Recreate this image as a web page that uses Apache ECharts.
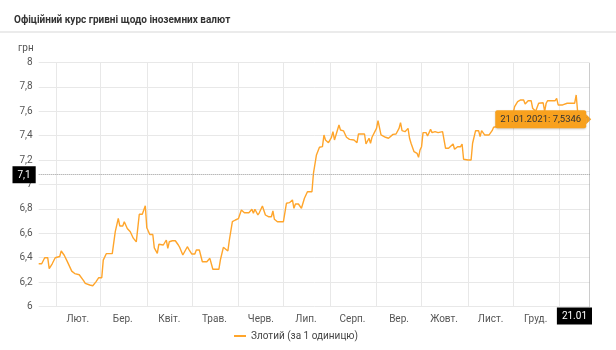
<!DOCTYPE html>
<html><head><meta charset="utf-8">
<script src="https://cdn.jsdelivr.net/npm/echarts@6/dist/echarts.min.js"></script>
<style>
html,body{margin:0;padding:0;background:#fff;width:616px;height:350px;overflow:hidden;}
#sep{position:absolute;left:0;top:31px;width:616px;height:2px;background:#ebebeb;}
#chart{position:absolute;left:0;top:0;width:592px;height:350px;}
</style></head><body>
<div id="sep"></div>
<div id="chart"></div>
<script>
const titleText = 'Офіційний курс гривні щодо іноземних валют';
const seriesName = 'Злотий (за 1 одиницю)';
const yUnit = 'грн';

const dates = [
'2020-01-20','2020-01-22','2020-01-24','2020-01-26','2020-01-27','2020-01-29','2020-01-31',
'2020-02-03','2020-02-04','2020-02-06','2020-02-08','2020-02-09','2020-02-11','2020-02-13','2020-02-14','2020-02-16','2020-02-17','2020-02-19','2020-02-20','2020-02-23','2020-02-25','2020-02-27','2020-02-29',
'2020-03-02','2020-03-03','2020-03-05','2020-03-07','2020-03-09','2020-03-11','2020-03-13','2020-03-14','2020-03-16','2020-03-17','2020-03-19','2020-03-21','2020-03-23','2020-03-25','2020-03-26','2020-03-27','2020-03-29','2020-03-31',
'2020-04-01','2020-04-03','2020-04-05','2020-04-06','2020-04-08','2020-04-09','2020-04-12','2020-04-14','2020-04-15','2020-04-16','2020-04-18','2020-04-20','2020-04-22','2020-04-23','2020-04-25','2020-04-26','2020-04-28','2020-04-29',
'2020-05-01','2020-05-03','2020-05-04','2020-05-06','2020-05-08','2020-05-11','2020-05-13','2020-05-14','2020-05-15','2020-05-19','2020-05-20','2020-05-22','2020-05-23','2020-05-25','2020-05-26','2020-05-28','2020-05-30',
'2020-06-01','2020-06-03','2020-06-05','2020-06-08','2020-06-10','2020-06-11','2020-06-12','2020-06-14','2020-06-15','2020-06-17','2020-06-19','2020-06-21','2020-06-23','2020-06-24','2020-06-25','2020-06-27',
'2020-07-01','2020-07-03','2020-07-05','2020-07-07','2020-07-08','2020-07-09','2020-07-11','2020-07-13','2020-07-14','2020-07-15','2020-07-17','2020-07-20','2020-07-21','2020-07-23','2020-07-25','2020-07-27','2020-07-28','2020-07-29','2020-07-31',
'2020-08-02','2020-08-03','2020-08-04','2020-08-06','2020-08-07','2020-08-08','2020-08-10','2020-08-12','2020-08-13','2020-08-14','2020-08-15','2020-08-17','2020-08-19','2020-08-20','2020-08-24','2020-08-25','2020-08-27','2020-08-28','2020-08-29','2020-08-30',
'2020-09-01','2020-09-02','2020-09-04','2020-09-05','2020-09-07','2020-09-09','2020-09-10','2020-09-12','2020-09-14','2020-09-16','2020-09-17','2020-09-18','2020-09-20','2020-09-22','2020-09-23','2020-09-24','2020-09-26','2020-09-28','2020-09-29','2020-09-30',
'2020-10-01','2020-10-02','2020-10-04','2020-10-05','2020-10-07','2020-10-08','2020-10-10','2020-10-12','2020-10-13','2020-10-15','2020-10-17','2020-10-19','2020-10-20','2020-10-22','2020-10-23','2020-10-25','2020-10-27','2020-10-28','2020-10-29',
'2020-11-01','2020-11-03','2020-11-04','2020-11-06','2020-11-08','2020-11-09','2020-11-10','2020-11-12','2020-11-13','2020-11-15','2020-11-17','2020-11-18','2020-11-20','2020-11-22','2020-11-26','2020-11-29',
'2020-12-01','2020-12-02','2020-12-04','2020-12-06','2020-12-08','2020-12-09','2020-12-11','2020-12-13','2020-12-14','2020-12-16','2020-12-18','2020-12-19','2020-12-21','2020-12-22','2020-12-23','2020-12-24','2020-12-29','2020-12-30','2020-12-31',
'2021-01-03','2021-01-06','2021-01-11','2021-01-12','2021-01-13','2021-01-16','2021-01-19','2021-01-21'
];
const rates = [
6.35,6.35,6.40,6.40,6.31,6.35,6.40,
6.41,6.455,6.42,6.37,6.37,6.29,6.27,6.26,6.26,6.245,6.21,6.19,6.176,6.17,6.20,6.236,
6.236,6.38,6.433,6.433,6.433,6.613,6.723,6.66,6.66,6.695,6.64,6.613,6.56,6.53,6.53,6.756,6.756,6.826,
6.646,6.59,6.59,6.48,6.436,6.51,6.504,6.545,6.477,6.531,6.539,6.539,6.504,6.482,6.422,6.422,6.49,6.469,
6.43,6.43,6.463,6.463,6.367,6.367,6.395,6.381,6.305,6.305,6.381,6.485,6.485,6.455,6.545,6.695,6.709,
6.72,6.791,6.769,6.769,6.797,6.764,6.797,6.75,6.77,6.824,6.75,6.736,6.736,6.783,6.715,6.695,
6.695,6.846,6.851,6.873,6.805,6.84,6.84,6.805,6.846,6.887,6.941,6.941,7.092,7.242,7.305,7.31,7.406,7.365,7.343,
7.387,7.433,7.365,7.447,7.488,7.447,7.44,7.387,7.398,7.37,7.37,7.365,7.343,7.414,7.414,7.332,7.379,7.338,7.387,7.38,
7.46,7.523,7.406,7.392,7.387,7.379,7.37,7.411,7.414,7.46,7.507,7.441,7.433,7.46,7.379,7.338,7.269,7.256,7.223,7.283,
7.31,7.425,7.425,7.398,7.452,7.425,7.433,7.425,7.441,7.433,7.297,7.297,7.31,7.332,7.289,7.31,7.31,7.332,7.207,
7.201,7.201,7.338,7.441,7.441,7.392,7.441,7.406,7.42,7.406,7.441,7.469,7.474,7.507,7.52,7.57,
7.584,7.638,7.68,7.693,7.693,7.66,7.687,7.687,7.625,7.60,7.666,7.67,7.67,7.60,7.666,7.687,7.687,7.706,7.652,
7.652,7.666,7.666,7.734,7.59,7.56,7.55,7.5346
];

const monthStarts = ['2020-02-01','2020-03-01','2020-04-01','2020-05-01','2020-06-01','2020-07-01','2020-08-01','2020-09-01','2020-10-01','2020-11-01','2020-12-01','2021-01-01'];
const monthLabelDates = ['2020-02-15','2020-03-16','2020-04-16','2020-05-16','2020-06-16','2020-07-16','2020-08-16','2020-09-16','2020-10-16','2020-11-16','2020-12-16'];
const monthLabels = ['Лют.','Бер.','Квіт.','Трав.','Черв.','Лип.','Серп.','Вер.','Жовт.','Лист.','Груд.'];
const yMin = 6, yMax = 8, yStep = 0.2;
const cursorDate = '2021-01-21';
const cursorRate = 7.08;

const DAY = 86400000;
function ts(s){ const p = s.split('-').map(Number); return Date.UTC(p[0], p[1]-1, p[2]); }
const t0 = ts(dates[0]);
function dayOf(s){ return Math.round((ts(s) - t0) / DAY); }
function dateOf(day){ return new Date(t0 + Math.round(day) * DAY); }
function comma(v, d){ return (d == null ? String(+v.toFixed(1)) : v.toFixed(d)).replace('.', ','); }
function dm(day){ const d = dateOf(day); return String(d.getUTCDate()).padStart(2,'0') + '.' + String(d.getUTCMonth()+1).padStart(2,'0'); }

const labelDays = monthLabelDates.map(dayOf);
const seriesData = dates.map((d, i) => [dayOf(d), rates[i]]);
const lastIdx = dates.length - 1;
const lastDay = dayOf(dates[lastIdx]);
const lastText = dm(lastDay) + '.' + dateOf(lastDay).getUTCFullYear() + ': ' + comma(rates[lastIdx], 4);

const chart = echarts.init(document.getElementById('chart'), null, {renderer: 'canvas'});
chart.setOption({
  animation: false,
  textStyle: {fontFamily: 'Roboto'},
  title: {text: titleText, left: 9, top: 10, textStyle: {fontSize: 10, fontWeight: 'bold', color: '#333', fontFamily: 'Roboto'}},
  legend: {bottom: 4, left: 'center', icon: 'rect', itemWidth: 12, itemHeight: 2, itemGap: 10,
    textStyle: {fontSize: 10, color: '#444'}, data: [seriesName]},
  grid: {left: 38.7, right: 2.3, top: 62.5, bottom: 43.5},
  xAxis: {
    type: 'value', min: 0, max: lastDay,
    axisLine: {show: false},
    axisTick: {show: false, customValues: monthStarts.map(dayOf)},
    splitLine: {show: true, lineStyle: {color: '#e8e8e8', width: 1}},
    axisLabel: {customValues: labelDays, formatter: v => monthLabels[labelDays.indexOf(v)] || '',
      fontSize: 10, color: '#555', margin: 8},
    axisPointer: {show: true, status: 'show', value: dayOf(cursorDate), triggerTooltip: false, snap: false,
      lineStyle: {type: 'dotted', color: '#999', width: 1},
      label: {show: true, formatter: p => dm(p.value), backgroundColor: '#000', color: '#fff',
        fontSize: 10, padding: [4, 5, 3, 5], borderRadius: 0, margin: 1}}
  },
  yAxis: {
    type: 'value', min: yMin, max: yMax, interval: yStep,
    name: yUnit, nameLocation: 'end', nameGap: 14,
    nameTextStyle: {align: 'right', verticalAlign: 'middle', padding: [0, 5, 0, 0], fontSize: 10, color: '#555'},
    axisLine: {show: false}, axisTick: {show: false},
    splitLine: {lineStyle: {color: '#e8e8e8', width: 1}},
    axisLabel: {formatter: v => comma(v), fontSize: 10, color: '#555', margin: 6},
    axisPointer: {show: true, status: 'show', value: cursorRate, triggerTooltip: false, snap: false,
      lineStyle: {type: 'dotted', color: '#999', width: 1},
      label: {show: true, formatter: p => comma(p.value), backgroundColor: '#000', color: '#fff',
        fontSize: 10, padding: [4, 5, 3, 5], borderRadius: 0, margin: 3}}
  },
  series: [{
    name: seriesName, type: 'line', data: seriesData, showSymbol: false, symbol: 'none',
    lineStyle: {color: '#ffa52b', width: 1.4}, itemStyle: {color: '#ffa52b'},
    markPoint: {
      silent: true,
      symbol: 'triangle', symbolRotate: -90, symbolSize: [10, 5], symbolOffset: [-1, 0],
      itemStyle: {color: '#f8a11e'},
      label: {show: true, position: 'left', distance: 0, formatter: lastText,
        backgroundColor: '#f8a11e', color: '#333', fontSize: 9.5, padding: [4, 5, 4, 5], borderRadius: 2,
        shadowColor: 'rgba(0,0,0,0.2)', shadowBlur: 2, shadowOffsetY: 1},
      data: [{coord: seriesData[lastIdx], value: rates[lastIdx]}]
    }
  }]
});
</script>
</body></html>
